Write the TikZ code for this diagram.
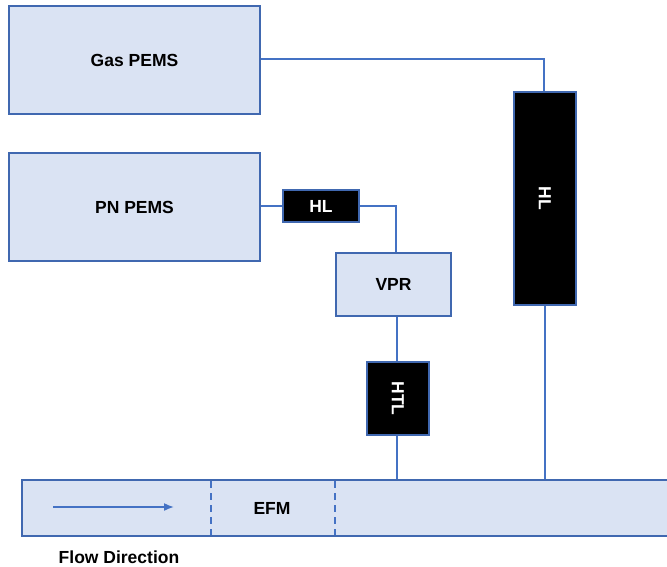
\documentclass[tikz,border=0pt]{standalone}
\usepackage{fontspec}
\setmainfont{Liberation Sans}
\usetikzlibrary{arrows.meta}
\definecolor{boxfill}{HTML}{DAE3F3}
\definecolor{boxline}{HTML}{4068B0}
\definecolor{pipeline}{HTML}{4472C4}
\begin{document}
\begin{tikzpicture}[x=1pt,y=-1pt,
  every node/.style={font=\fontsize{17.5}{19}\selectfont\bfseries, inner sep=0pt},
  bluebox/.style={draw=boxline, fill=boxfill, line width=1.4pt, rectangle},
  blackbox/.style={draw=boxline, fill=black, text=white, line width=1.4pt, rectangle},
  conn/.style={draw=pipeline, line width=1.8pt}]
\useasboundingbox (0,0) rectangle (667,566);
\node[bluebox, minimum width=251pt, minimum height=108pt] (gas) at (134.5,60) {Gas PEMS};
\node[bluebox, minimum width=251pt, minimum height=108pt] (pn) at (134.5,207) {PN PEMS};
\node[blackbox, minimum width=76pt, minimum height=32pt] (hla) at (321,206) {HL};
\node[bluebox, minimum width=115pt, minimum height=63pt] (vpr) at (393.5,284.5) {VPR};
\node[blackbox, minimum width=62pt, minimum height=73pt] (htl) at (398,398.5) {};
\node[text=white, rotate=-90] (htlt) at (htl.center) {HTL};
\node[blackbox, minimum width=62pt, minimum height=213pt] (hlb) at (545,198.5) {};
\node[text=white, rotate=-90] (hlbt) at (hlb.center) {HL};
\node[bluebox, minimum width=658pt, minimum height=56pt] (pipe) at (351,508) {};
\coordinate (d1t) at (211,481);
\coordinate (d1b) at (211,535);
\coordinate (d2t) at (335,481);
\coordinate (d2b) at (335,535);
\draw[draw=pipeline, line width=1.5pt, dash pattern=on 7pt off 5pt] (d1t) -- (d1b);
\draw[draw=pipeline, line width=1.5pt, dash pattern=on 7pt off 5pt] (d2t) -- (d2b);
\node (efm) at (272,508) {EFM};
\coordinate (arrs) at (53,507);
\coordinate (arre) at (174,507);
\draw[conn, line width=1.6pt, -{Latex[length=10pt,width=8pt]}] (arrs) -- (arre);
\node[anchor=base, text depth=0pt] (flow) at (119,563) {Flow Direction};
% connectors
\draw[conn] (gas.east |- 0,59) -| (hlb.north -| 544,0);
\draw[conn] (hlb.south) -- (hlb.south |- pipe.north);
\draw[conn] (pn.east |- hla.west) -- (hla.west);
\draw[conn] (hla.east) -| (vpr.north -| 396,0);
\draw[conn] (vpr.south -| 397,0) -- (htl.north -| 397,0);
\draw[conn] (htl.south -| 397,0) -- (pipe.north -| 397,0);
\end{tikzpicture}
\end{document}
